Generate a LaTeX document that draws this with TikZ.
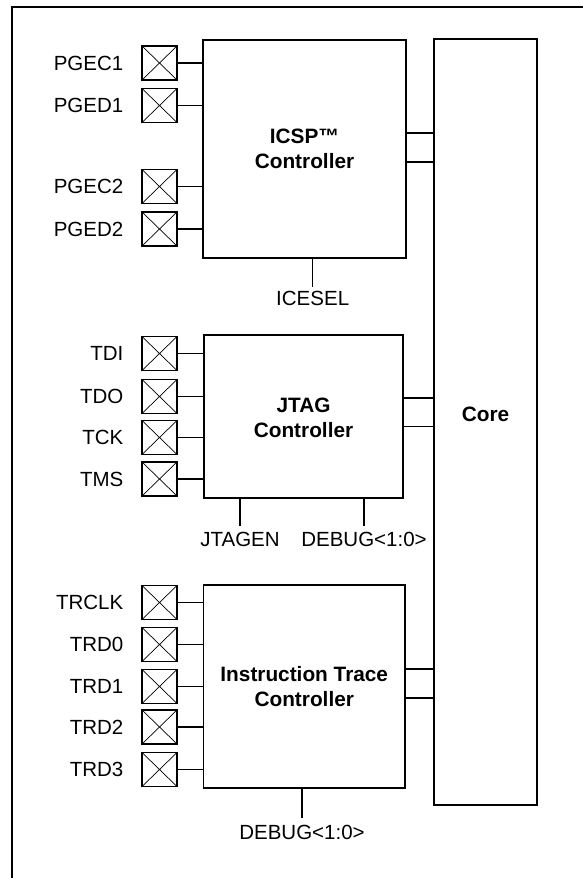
\documentclass[tikz,border=0pt]{standalone}
\usepackage{fontspec}
\setmainfont{Liberation Sans}
\begin{document}
\begin{tikzpicture}[x=1pt,y=-1pt,
  lbl/.style={inner sep=0pt,text height=14.68pt,text depth=0pt,font=\fontsize{20.5}{24}\selectfont},
  ttl/.style={inner sep=0pt,text height=14.9pt,text depth=0pt,font=\fontsize{20.8}{24}\selectfont\bfseries},
  blk/.style={draw,line width=1.7pt,inner sep=0pt,outer sep=0pt},
  pin/.style={draw,line width=1.5pt,minimum width=35pt,minimum height=34pt,inner sep=0pt,outer sep=0pt,
    path picture={\draw[line width=0.7pt] (path picture bounding box.north west) -- (path picture bounding box.south east)
      (path picture bounding box.south west) -- (path picture bounding box.north east);}},
  wire/.style={line width=1.3pt}]
\useasboundingbox (0,0) rectangle (583,878);
\clip (0,0) rectangle (583,878);
% outer frame (cropped)
\draw[line width=2pt] (12,900) -- (12,7.3) -- (600,7.3);
% blocks
\node[blk,minimum width=203pt,minimum height=218pt] (icsp) at (304.5,149) {};
\node[blk,minimum width=199pt,minimum height=163pt] (jtag) at (303.5,416.5) {};
\node[blk,minimum width=201.5pt,minimum height=203pt] (trace) at (304.25,686.5) {};
\node[blk,minimum width=103pt,minimum height=766pt] (core) at (485.5,422) {};
% titles
\node[ttl] (icspA) at (304.5,136.5) {ICSP™};
\node[ttl] (icspB) at (304.5,161.5) {Controller};
\node[ttl] (jtagA) at (303.5,405) {JTAG};
\node[ttl] (jtagB) at (303.5,430) {Controller};
\node[ttl] (traceA) at (304.25,674) {Instruction Trace};
\node[ttl] (traceB) at (304.25,699) {Controller};
\node[ttl] (coreT) at (485.5,414) {Core};
% pins
\foreach \n/\y/\t/\b in {p1/63/PGEC1/icsp, p2/105.5/PGED1/icsp, p3/186.5/PGEC2/icsp, p4/229/PGED2/icsp,
  j1/353.5/TDI/jtag, j2/396.5/TDO/jtag, j3/437.5/TCK/jtag, j4/479/TMS/jtag,
  t1/602.5/TRCLK/trace, t2/644.5/TRD0/trace, t3/686.5/TRD1/trace, t4/727/TRD2/trace, t5/769.5/TRD3/trace}{
  \node[pin] (\n) at (159.5,\y) {};
  \node[lbl,anchor=east] (\n l) at (123.5,\y) {\t};
  \draw[wire] (\n.east) -- (\n -| \b.west);
}
% core connectors
\coordinate (ic1) at ([yshift=16pt]icsp.east);
\coordinate (ic2) at ([yshift=-13pt]icsp.east);
\coordinate (jc1) at ([yshift=18.5pt]jtag.east);
\coordinate (jc2) at ([yshift=-10.2pt]jtag.east);
\coordinate (tc1) at ([yshift=17.5pt]trace.east);
\coordinate (tc2) at ([yshift=-11.5pt]trace.east);
\foreach \c in {ic1,ic2,jc1,jc2,tc1,tc2}{\draw[wire] (\c) -- (\c -| core.west);}
% bottom signals
\node[lbl] (icesel) at (312.7,298) {ICESEL};
\draw[wire,shorten <=3.7pt] (icesel.north) -- (icesel.north |- icsp.south);
\node[lbl] (jtagen) at (240,538.7) {JTAGEN};
\draw[wire,shorten <=4.8pt] (jtagen.north) -- (jtagen.north |- jtag.south);
\node[lbl] (jdbg) at (364,538.7) {DEBUG<1:0>};
\draw[wire,shorten <=4.8pt] (jdbg.north) -- (jdbg.north |- jtag.south);
\node[lbl] (tdbg) at (302,832.5) {DEBUG<1:0>};
\draw[wire,shorten <=6.7pt] (tdbg.north) -- (tdbg.north |- trace.south);
\end{tikzpicture}
\end{document}
